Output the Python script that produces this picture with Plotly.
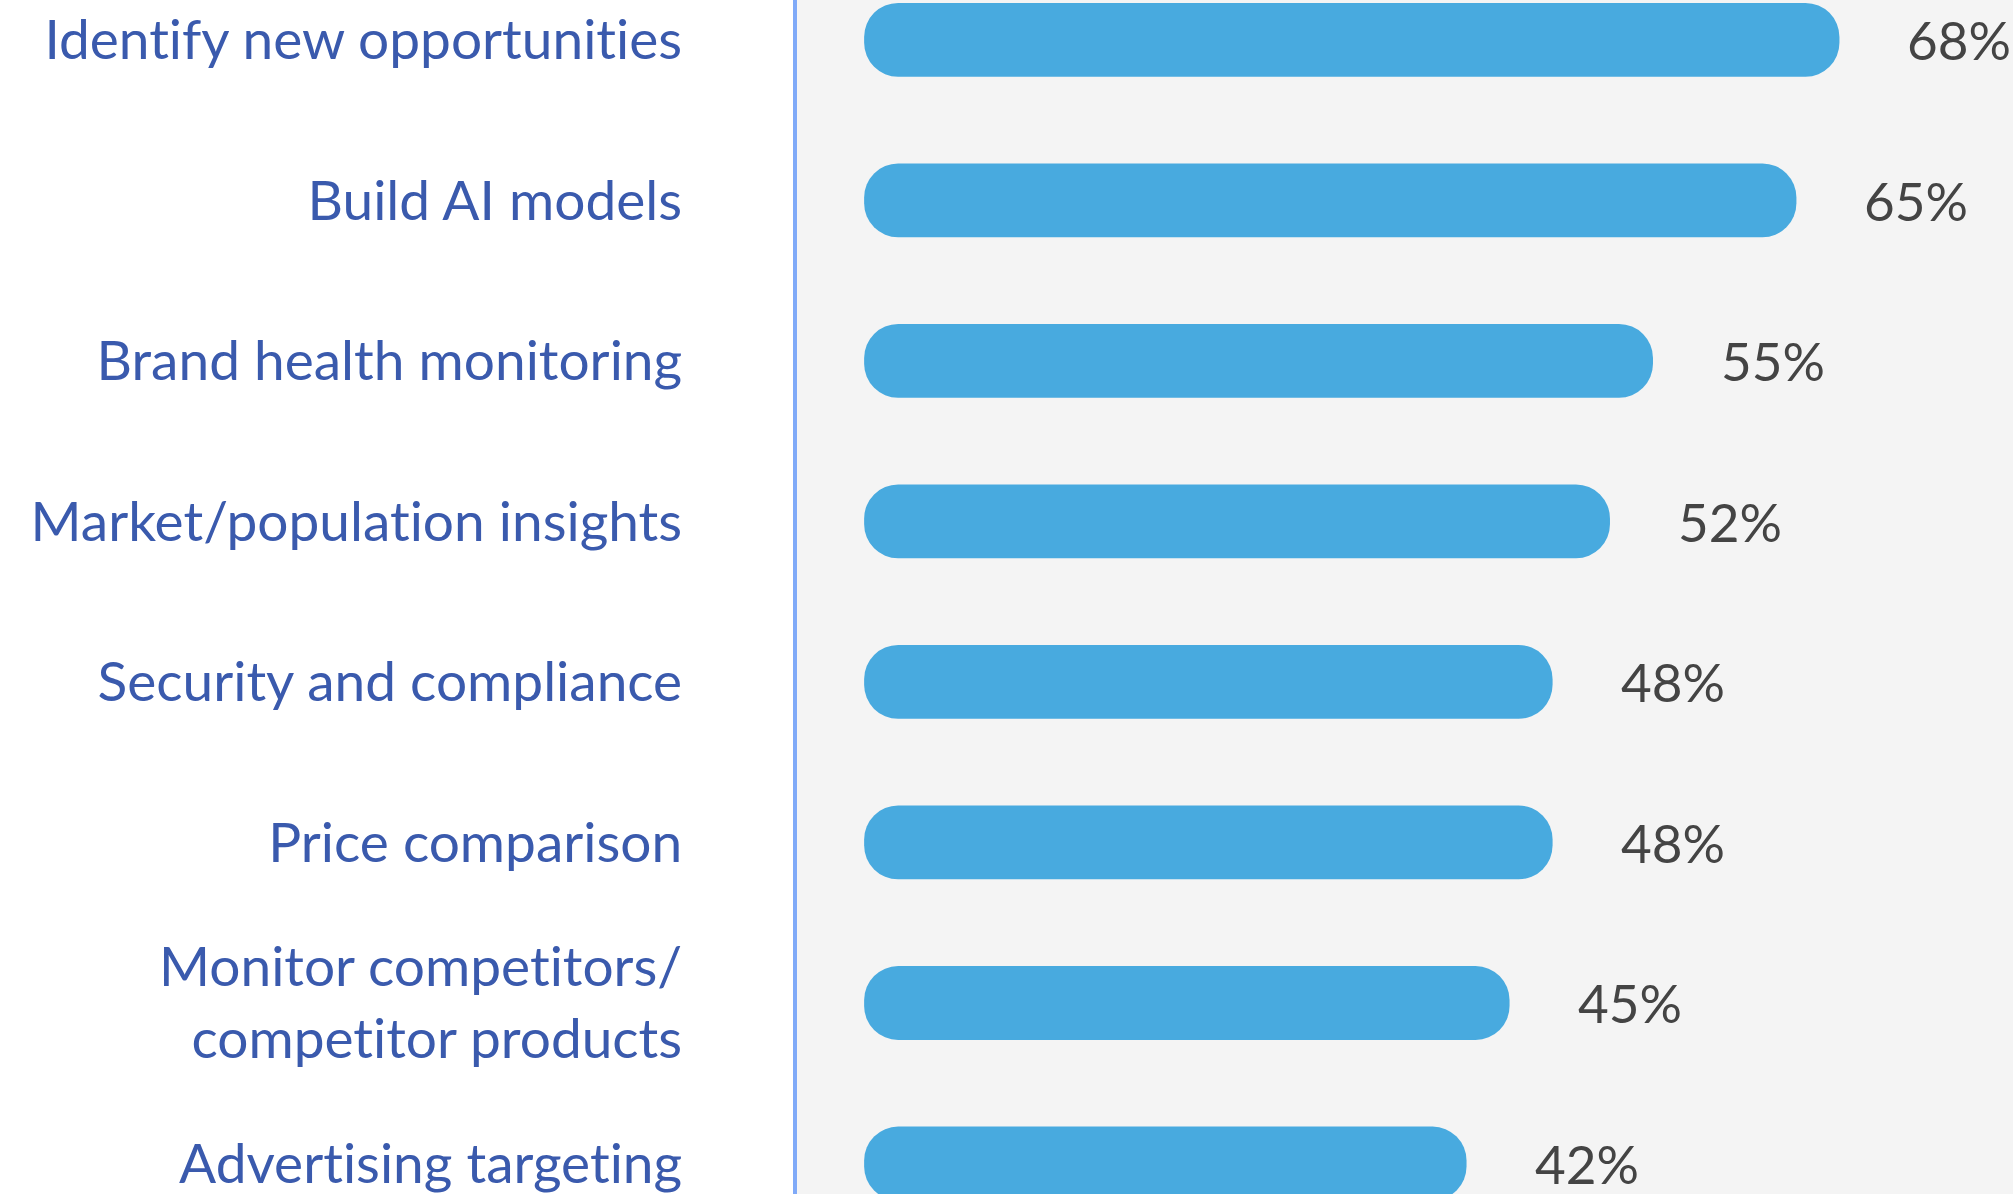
import plotly.graph_objects as go

categorias = [
    "Identify new opportunities",
    "Build AI models",
    "Brand health monitoring",
    "Market/population insights",
    "Security and compliance",
    "Price comparison",
    "Monitor competitors/<br>competitor products",
    "Advertising targeting",
]
valores = [68, 65, 55, 52, 48, 48, 45, 42]
rotulos = [f"{v}%" for v in valores]

cor_barra = "#48aadf"

fig = go.Figure()

# base explícita -> plotly arredonda as duas pontas
fig.add_trace(go.Bar(
    y=categorias,
    x=valores,
    base=[0] * len(valores),
    orientation="h",
    width=0.46,
    marker=dict(color=cor_barra, cornerradius=34, line=dict(width=0)),
    hoverinfo="skip",
))

for cat, v, txt in zip(categorias, valores, rotulos):
    fig.add_annotation(
        x=v, y=cat, text=txt,
        xanchor="left", yanchor="middle",
        xshift=66, yshift=0,
        showarrow=False,
        font=dict(family="Lato", size=53, color="#444444"),
    )

fig.update_layout(
    width=2013,
    height=1194,
    margin=dict(t=0, b=0, l=0, r=0),
    showlegend=False,
    paper_bgcolor="white",
    plot_bgcolor="#f4f4f4",
    font=dict(family="Lato"),
    xaxis=dict(
        domain=[0.396, 1],
        range=[-4.67, 80.1],
        visible=False,
        showgrid=False,
        zeroline=False,
    ),
    yaxis=dict(
        type="category",
        range=[7.19, -0.248],
        showgrid=False,
        zeroline=False,
        showline=True,
        linecolor="#80aaf8",
        linewidth=4,
        ticks="",
        ticklabelstandoff=100,
        tickfont=dict(family="Lato", size=55, color="#3a5aad"),
    ),
)

# tira a margem da página e as ligaduras do Lato
ajuste = """
document.body.style.margin = '0';
var s = document.createElement('style');
s.innerHTML = 'svg text { font-variant-ligatures: none !important; '
  + 'font-feature-settings: "liga" 0, "clig" 0, "calt" 0 !important; }';
document.head.appendChild(s);
"""

fig.write_html("out.html", post_script=ajuste, config={"displayModeBar": False})
